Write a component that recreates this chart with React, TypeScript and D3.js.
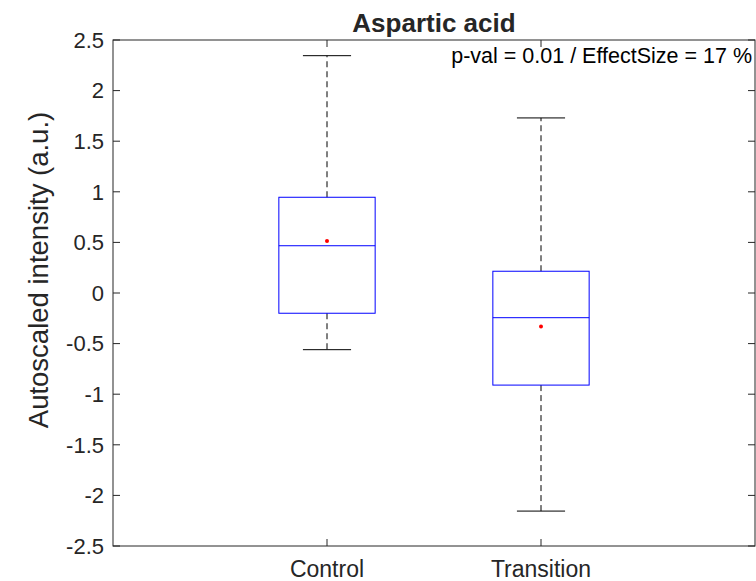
import React from "react";
import * as d3 from "d3";

// values
const categories = ["Control", "Transition"];
const whiskerLow = [-0.56, -2.155];
const q1 = [-0.2, -0.91];
const medians = [0.467, -0.244];
const q3 = [0.946, 0.215];
const whiskerHigh = [2.345, 1.73];
const means = [0.514, -0.33];
const yTicks = [-2.5, -2, -1.5, -1, -0.5, 0, 0.5, 1, 1.5, 2, 2.5];

const W = 756;
const H = 581;
const left = 113;
const right = 755;
const top = 40;
const bottom = 546;
const font = "'Liberation Sans', Arial, Helvetica, sans-serif";
const ink = "#262626";

const App = () => {
  const x = d3.scaleLinear().domain([0, 3]).range([left, right]);
  const y = d3.scaleLinear().domain([-2.5, 2.5]).range([bottom, top]);
  const boxW = 0.225; // half width in axis units
  const tick = 7;

  return (
    <svg
      width={W}
      height={H}
      style={{ position: "fixed", left: 0, top: 0, background: "#fff" }}
    >
      <rect x={0} y={0} width={W} height={H} fill="#fff" />

      {/* boxes */}
      {categories.map((c, i) => {
        const cx = x(i + 1);
        const x0 = x(i + 1 - boxW);
        const x1 = x(i + 1 + boxW);
        const capHalf = (x1 - x0) / 4;
        return (
          <g key={c}>
            <line x1={cx} x2={cx} y1={y(q3[i])} y2={y(whiskerHigh[i])} stroke="#000" strokeDasharray="6,4" />
            <line x1={cx} x2={cx} y1={y(q1[i])} y2={y(whiskerLow[i])} stroke="#000" strokeDasharray="6,4" />
            <line x1={cx - capHalf} x2={cx + capHalf} y1={y(whiskerHigh[i])} y2={y(whiskerHigh[i])} stroke="#000" />
            <line x1={cx - capHalf} x2={cx + capHalf} y1={y(whiskerLow[i])} y2={y(whiskerLow[i])} stroke="#000" />
            <rect x={x0} y={y(q3[i])} width={x1 - x0} height={y(q1[i]) - y(q3[i])} fill="none" stroke="#0000ff" />
            <line x1={x0} x2={x1} y1={y(medians[i])} y2={y(medians[i])} stroke="#0000ff" />
            <circle cx={cx} cy={y(means[i])} r={2} fill="#ff0000" />
          </g>
        );
      })}

      {/* axes box */}
      <rect x={left} y={top} width={right - left} height={bottom - top} fill="none" stroke={ink} />

      {yTicks.map((t) => (
        <g key={t}>
          <line x1={left} x2={left + tick} y1={y(t)} y2={y(t)} stroke={ink} />
          <line x1={right - tick} x2={right} y1={y(t)} y2={y(t)} stroke={ink} />
          <text x={left - 9} y={y(t)} dy="0.35em" textAnchor="end" fontFamily={font} fontSize={22} fill={ink}>
            {t}
          </text>
        </g>
      ))}

      {categories.map((c, i) => (
        <g key={c}>
          <line x1={x(i + 1)} x2={x(i + 1)} y1={bottom} y2={bottom - tick} stroke={ink} />
          <line x1={x(i + 1)} x2={x(i + 1)} y1={top} y2={top + tick} stroke={ink} />
          <text x={x(i + 1)} y={577} textAnchor="middle" fontFamily={font} fontSize={23} fill={ink}>
            {c}
          </text>
        </g>
      ))}

      <text x={(left + right) / 2} y={32} textAnchor="middle" fontFamily={font} fontSize={26} fontWeight="bold" fill={ink}>
        Aspartic acid
      </text>
      <text
        transform={`translate(48,270) rotate(-90)`}
        textAnchor="middle"
        fontFamily={font}
        fontSize={27.5}
        fill={ink}
      >
        Autoscaled intensity (a.u.)
      </text>
      <text x={752} y={63} textAnchor="end" fontFamily={font} fontSize={21.5} fill="#000">
        p-val = 0.01 / EffectSize = 17 %
      </text>
    </svg>
  );
};

export default App;
